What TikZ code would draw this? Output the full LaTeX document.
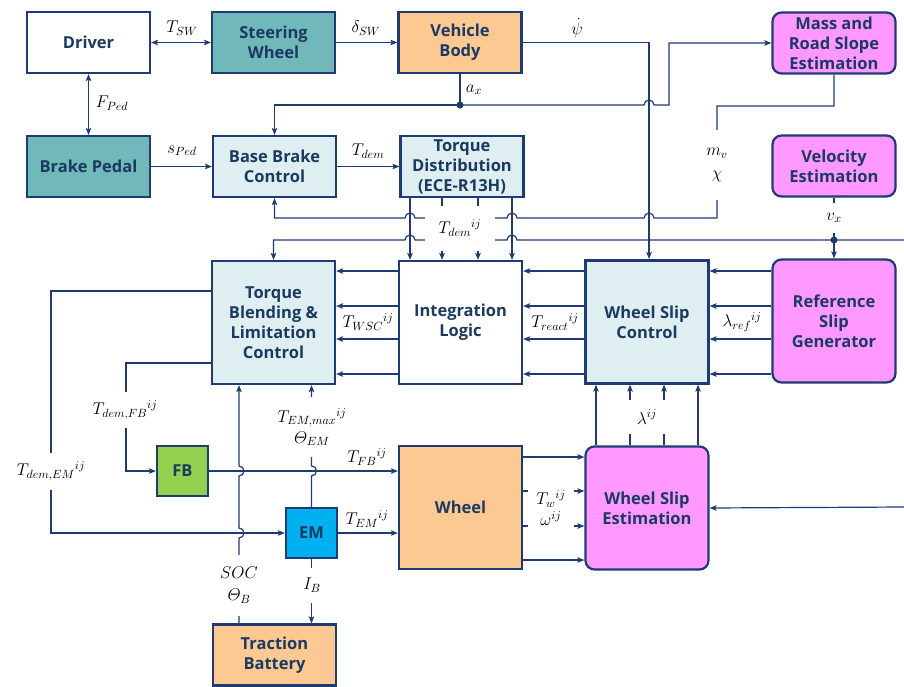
\RequirePackage{fix-cm}
\documentclass[tikz,border=0pt]{standalone}
\usepackage{amsmath,amssymb}
\usepackage{fontspec}
\setsansfont{Open Sans}
\usetikzlibrary{arrows.meta,positioning,calc}
\definecolor{navyLine}{HTML}{1F3B73}
\definecolor{navyText}{HTML}{1B3A62}
\definecolor{tealBox}{HTML}{70B8B9}
\definecolor{peachBox}{HTML}{FCC993}
\definecolor{iceBox}{HTML}{DFEFF1}
\definecolor{pinkBox}{HTML}{FF99FF}
\definecolor{greenBox}{HTML}{92D050}
\definecolor{blueBox}{HTML}{00B0F0}

\begin{document}
\begin{tikzpicture}[x=1pt,y=-1pt,
    blk/.style={draw=navyLine,line width=2.2pt,minimum width=123,minimum height=61,
      inner sep=0pt,align=center,text=navyText,
      font=\sffamily\bfseries\fontsize{16.5}{20}\selectfont},
    tallblk/.style={minimum height=123},
    estblk/.style={blk,fill=pinkBox,rounded corners=9pt},
    sqblk/.style={blk,minimum width=51,minimum height=50},
    sig/.style={draw=navyLine,line width=1.2pt},
    arr/.style={sig,-{Stealth[length=7pt,width=5.5pt,inset=1.5pt]}},
    dblarr/.style={sig,{Stealth[length=7pt,width=5.5pt,inset=1.5pt]}-{Stealth[length=7pt,width=5.5pt,inset=1.5pt]}},
    tag/.style={inner sep=1pt,font=\fontsize{17}{20}\selectfont},
    lbl/.style={tag,fill=white},
    jointdot/.style={fill=navyLine}]
  \useasboundingbox (0,0) rectangle (904,686);

  % blocks
  \node[blk] (driver) at (88.5,42.5) {Driver};
  \node[blk,fill=tealBox] (steer) at (273.5,42.5) {Steering\\Wheel};
  \node[blk,fill=peachBox] (body) at (460,42.5) {Vehicle\\Body};
  \node[estblk] (mass) at (834,43) {Mass and\\Road Slope\\Estimation};
  \node[blk,fill=tealBox] (pedal) at (88.5,166.5) {Brake Pedal};
  \node[blk,fill=iceBox] (bbc) at (274.5,166.5) {Base Brake\\Control};
  \node[blk,fill=iceBox] (tdist) at (462,166.5) {Torque\\Distribution\\(ECE-R13H)};
  \node[estblk] (velo) at (834,166) {Velocity\\Estimation};
  \node[blk,tallblk,fill=iceBox] (tbl) at (273.5,322.5) {Torque\\Blending \&\\Limitation\\Control};
  \node[blk,tallblk] (intl) at (460.5,322.5) {Integration\\Logic};
  \node[blk,tallblk,fill=iceBox] (wsc) at (647,322) {Wheel Slip\\Control};
  \node[estblk,tallblk] (rsg) at (834,321) {Reference\\Slip\\Generator};
  \node[sqblk,fill=greenBox] (fb) at (182.5,471) {FB};
  \node[sqblk,fill=blueBox] (em) at (311.5,533) {EM};
  \node[blk,tallblk,fill=peachBox] (wheel) at (460.5,507.5) {Wheel};
  \node[estblk,tallblk] (wse) at (647,508) {Wheel Slip\\Estimation};
  \node[blk,fill=peachBox] (batt) at (274.5,655) {Traction\\Battery};

  \coordinate (ax) at (460,105);
  \coordinate (vx) at (834,240);
  \coordinate (vxOut) at (904,240);
  \coordinate (vxIn) at (904,507);

  % top row signals
  \draw[dblarr] (driver) -- (steer);
  \draw[arr] (steer) -- (body);
  \draw[dblarr] (driver) -- (pedal);
  \draw[arr] (pedal) -- (bbc);
  \draw[arr] (bbc) -- (tdist);
  \draw[arr] (body.east) -| (649,259);
  \draw[sig] (body.south) -- (ax);
  \draw[arr] (ax) -| (bbc.north);
  \draw[arr] (ax) -- (644,105) arc[start angle=180,end angle=360,radius=5]
    -- (669,105) |- (mass.west);
  \draw[arr] (mass.south) |- (717,106) -- (717,218)
    -- (654,218) arc[start angle=0,end angle=-180,radius=5]
    -- (517,218) arc[start angle=0,end angle=-180,radius=5]
    -- (415,218) arc[start angle=0,end angle=-180,radius=5]
    -| (bbc.south);
  \draw[sig] (velo.south) -- (vx);
  \draw[arr] (vx) -- (rsg.north);
  \draw[arr] (vxOut) -- (vx)
    -- (517,240) arc[start angle=0,end angle=-180,radius=5]
    -- (415,240) arc[start angle=0,end angle=-180,radius=5]
    -| (tbl.north);
  \fill[jointdot] (ax) circle (3.5);
  \fill[jointdot] (vx) circle (3.5);

  % bus of four
  \foreach \xx in {410,442,478,512}
    \draw[arr] (tdist.south -| \xx,0) -- (intl.north -| \xx,0);
  \foreach \yy in {271,306,339,374} {
    \draw[arr] (intl.west |- 0,\yy) -- (tbl.east |- 0,\yy);
    \draw[arr] (wsc.west |- 0,\yy) -- (intl.east |- 0,\yy);
    \draw[arr] (rsg.west |- 0,\yy) -- (wsc.east |- 0,\yy);
  }
  \foreach \xx in {596,630,664,698}
    \draw[arr] (wse.north -| \xx,0) -- (wsc.south -| \xx,0);
  \foreach \yy in {457,491,526,560}
    \draw[arr] (wheel.east |- 0,\yy) -- (wse.west |- 0,\yy);
  \draw[arr] (vxIn) -- (wse.east);

  % actuator side
  \draw[arr] (tbl.west |- 0,291) -| (51,533) -- (em.west);
  \draw[arr] (tbl.west |- 0,363) -| (126,471) -- (fb.west);
  \draw[arr] (fb.east) -- (wheel.west |- fb.east);
  \draw[arr] (em.east) -- (wheel.west |- em.east);
  \draw[arr] (em.north) -- ++(0,-31) arc[start angle=90,end angle=-90,radius=5]
    -- (tbl.south -| em.north);
  \draw[arr] (batt.north -| 239,0) -- (239,538) arc[start angle=90,end angle=-90,radius=5]
    -- (239,476) arc[start angle=90,end angle=-90,radius=5] -- (tbl.south -| 239,0);
  \draw[arr] (em.south) -- (batt.north -| em.south);

  % labels
  \node[tag] at (182,28) {$T_{SW}$};
  \node[tag] at (366,28) {$\delta_{SW}$};
  \node[tag] at (112,103) {$F_{Ped}$};
  \node[tag] at (182,151) {$s_{Ped}$};
  \node[tag] at (368,151) {$T_{dem}$};
  \node[tag] at (577,28) {$\dot{\psi}$};
  \node[tag] at (474,90) {$a_x$};
  \node[lbl,minimum height=70,minimum width=30,align=center] at (717,165) {$m_v$\\[3pt]$\chi$};
  \node[lbl,minimum height=30] at (834,218) {$v_x$};
  \node[lbl,minimum width=70,minimum height=45] at (460,228) {$T_{dem}{}^{ij}$};
  \node[tag] at (368,322) {$T_{WSC}{}^{ij}$};
  \node[tag] at (555,322) {$T_{react}{}^{ij}$};
  \node[tag] at (742,322) {$\lambda_{ref}{}^{ij}$};
  \node[lbl,minimum width=70,minimum height=34] at (647,417) {$\lambda^{ij}$};
  \node[lbl,minimum height=36] at (125,410) {$T_{dem,FB}{}^{ij}$};
  \node[lbl,minimum height=37] at (51,471) {$T_{dem,EM}{}^{ij}$};
  \node[lbl,minimum height=60,align=center] at (312,427) {$T_{EM,max}{}^{ij}$\\[1pt]$\varTheta_{EM}$};
  \node[tag] at (367,457) {$T_{FB}{}^{ij}$};
  \node[tag] at (367,519) {$T_{EM}{}^{ij}$};
  \node[lbl,minimum height=61,align=center] at (239,585) {$SOC$\\[2pt]$\varTheta_{B}$};
  \node[lbl,minimum height=35] at (312,585) {$I_B$};
  \node[lbl,minimum width=46,minimum height=52,align=center] at (551,508) {$T_w{}^{ij}$\\[1pt]$\omega^{ij}$};
\end{tikzpicture}
\end{document}
